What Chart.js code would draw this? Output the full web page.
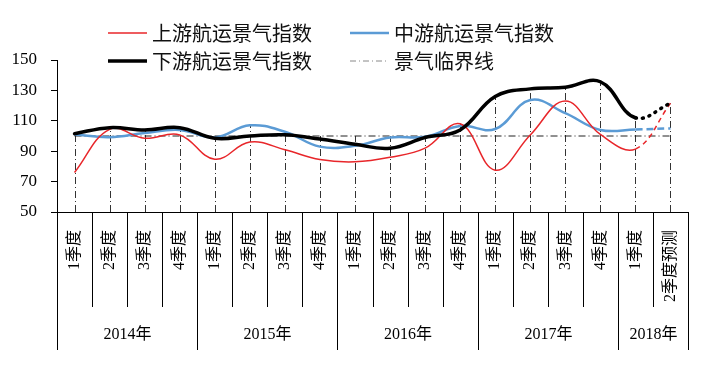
<!DOCTYPE html>
<html>
<head>
<meta charset="utf-8">
<script src="https://cdn.jsdelivr.net/npm/chart.js@4.4.1/dist/chart.umd.min.js"></script>
<style>
  body { margin: 0; background: #fff; }
  canvas { display: block; }
</style>
</head>
<body>
<canvas id="chart" width="709" height="373"></canvas>
<script>
const quarters = ['1季度', '2季度', '3季度', '4季度', '1季度', '2季度', '3季度', '4季度',
  '1季度', '2季度', '3季度', '4季度', '1季度', '2季度', '3季度', '4季度', '1季度', '2季度预测'];
const years = ['2014年', '2015年', '2016年', '2017年', '2018年'];
const yearSpans = [4, 4, 4, 4, 2];
const upstream = [76, 104.4, 98.5, 100.7, 84.7, 96, 91, 84.5, 83, 86, 92, 108, 77.5, 100.7, 123, 101, 91.4, 121.5];
const midstream = [101, 99.2, 102, 104, 99, 107, 102.8, 93, 93.5, 99, 99.5, 106.6, 104.6, 123.7, 115, 104, 104.3, 105];
const downstream = [101.5, 105.5, 104, 105.5, 98.5, 100, 100.8, 98, 94.5, 92, 99, 104, 126, 131, 132, 135.7, 112, 121.5];
const critical = quarters.map(() => 100);
const yTicks = [50, 70, 90, 110, 130, 150];

const serif = '"Liberation Serif", "Noto Sans CJK SC", serif';
const sans = '"Noto Sans CJK SC", "Noto Sans", sans-serif';
const last = quarters.length - 1;
const forecast = (dash) => ({ borderDash: ctx => ctx.p1DataIndex === last ? dash : undefined });

// 垂线：从横轴到该季度最高值
const dropLines = {
  id: 'dropLines',
  beforeDatasetsDraw(chart) {
    const { ctx, chartArea, scales } = chart;
    ctx.save();
    ctx.strokeStyle = '#333';
    ctx.lineWidth = 1;
    ctx.setLineDash([7, 3, 1, 3]);
    quarters.forEach((q, i) => {
      const top = Math.max(...chart.data.datasets.map(d => d.data[i]));
      const x = Math.round(scales.x.getPixelForValue(i)) + 0.5;
      ctx.beginPath();
      ctx.moveTo(x, chartArea.bottom);
      ctx.lineTo(x, scales.y.getPixelForValue(top));
      ctx.stroke();
    });
    ctx.restore();
  }
};

// 横轴分隔线、年份标签和图例
const decorations = {
  id: 'decorations',
  afterDraw(chart) {
    const { ctx, chartArea, scales } = chart;
    const xs = scales.x;
    const half = (xs.getPixelForValue(1) - xs.getPixelForValue(0)) / 2;
    const edge = i => Math.round(xs.getPixelForValue(i) - half) + 0.5;
    const bottom = chartArea.bottom;
    ctx.save();
    ctx.strokeStyle = '#000';
    ctx.lineWidth = 1;
    for (let i = 0; i <= quarters.length; i++) {
      ctx.beginPath();
      ctx.moveTo(edge(i), bottom);
      ctx.lineTo(edge(i), bottom + 95);
      ctx.stroke();
    }
    let start = 0;
    ctx.font = '16px ' + serif;
    ctx.fillStyle = '#000';
    ctx.textAlign = 'center';
    ctx.textBaseline = 'middle';
    years.forEach((y, k) => {
      const end = start + yearSpans[k];
      [start, end].forEach(b => {
        ctx.beginPath();
        ctx.moveTo(edge(b), bottom);
        ctx.lineTo(edge(b), bottom + 138);
        ctx.stroke();
      });
      ctx.fillText(y, (edge(start) + edge(end)) / 2, bottom + 123);
      start = end;
    });

    // 图例 2x2
    const slots = [[108, 33], [350, 33], [108, 61], [350, 61]];
    ctx.font = '20px ' + sans;
    ctx.textAlign = 'left';
    chart.data.datasets.forEach((d, i) => {
      const [lx, ly] = slots[i];
      ctx.beginPath();
      ctx.strokeStyle = i === 3 ? '#888' : d.borderColor;
      ctx.lineWidth = i === 3 ? 1 : d.borderWidth;
      ctx.setLineDash(i === 3 ? [6, 3, 1, 3] : []);
      ctx.moveTo(lx, ly);
      ctx.lineTo(lx + 39, ly);
      ctx.stroke();
      ctx.fillStyle = '#111';
      ctx.fillText(d.label, lx + 44, ly);
    });
    ctx.restore();
  }
};

new Chart(document.getElementById('chart'), {
  type: 'line',
  data: {
    labels: quarters,
    datasets: [
      { label: '上游航运景气指数', data: upstream, borderColor: '#e8262a', borderWidth: 1.5,
        order: 2, segment: forecast([5, 4]) },
      { label: '中游航运景气指数', data: midstream, borderColor: '#5b9bd5', borderWidth: 2.5,
        order: 3, segment: forecast([7, 4]) },
      { label: '下游航运景气指数', data: downstream, borderColor: '#000', borderWidth: 3.5,
        borderCapStyle: 'round', order: 1, segment: forecast([1, 6]) },
      { label: '景气临界线', data: critical, borderColor: '#222', borderWidth: 1,
        borderDash: [7, 3, 1, 3], tension: 0, order: 4 }
    ]
  },
  options: {
    responsive: false,
    devicePixelRatio: 1,
    animation: false,
    layout: { padding: { top: 60, right: 21, left: 0, bottom: 0 } },
    elements: {
      line: { tension: 0.4, fill: false },
      point: { radius: 0, hoverRadius: 0 }
    },
    plugins: {
      legend: { display: false },
      tooltip: { enabled: false }
    },
    scales: {
      x: {
        offset: true,
        afterFit: s => { s.height = 161; },
        grid: { display: false, offset: true },
        border: { color: '#000', width: 1 },
        ticks: {
          autoSkip: false, minRotation: 90, maxRotation: 90, padding: 10,
          color: '#000', font: { size: 16, family: serif }
        }
      },
      y: {
        min: 50, max: 150,
        afterFit: s => { s.width = 57; },
        afterBuildTicks: s => { s.ticks = yTicks.map(v => ({ value: v })); },
        grid: { drawOnChartArea: false, tickLength: 6, color: '#000' },
        border: { color: '#000', width: 1 },
        ticks: { padding: 14, color: '#000', font: { size: 17, family: serif } }
      }
    }
  },
  plugins: [dropLines, decorations]
});
</script>
</body>
</html>
